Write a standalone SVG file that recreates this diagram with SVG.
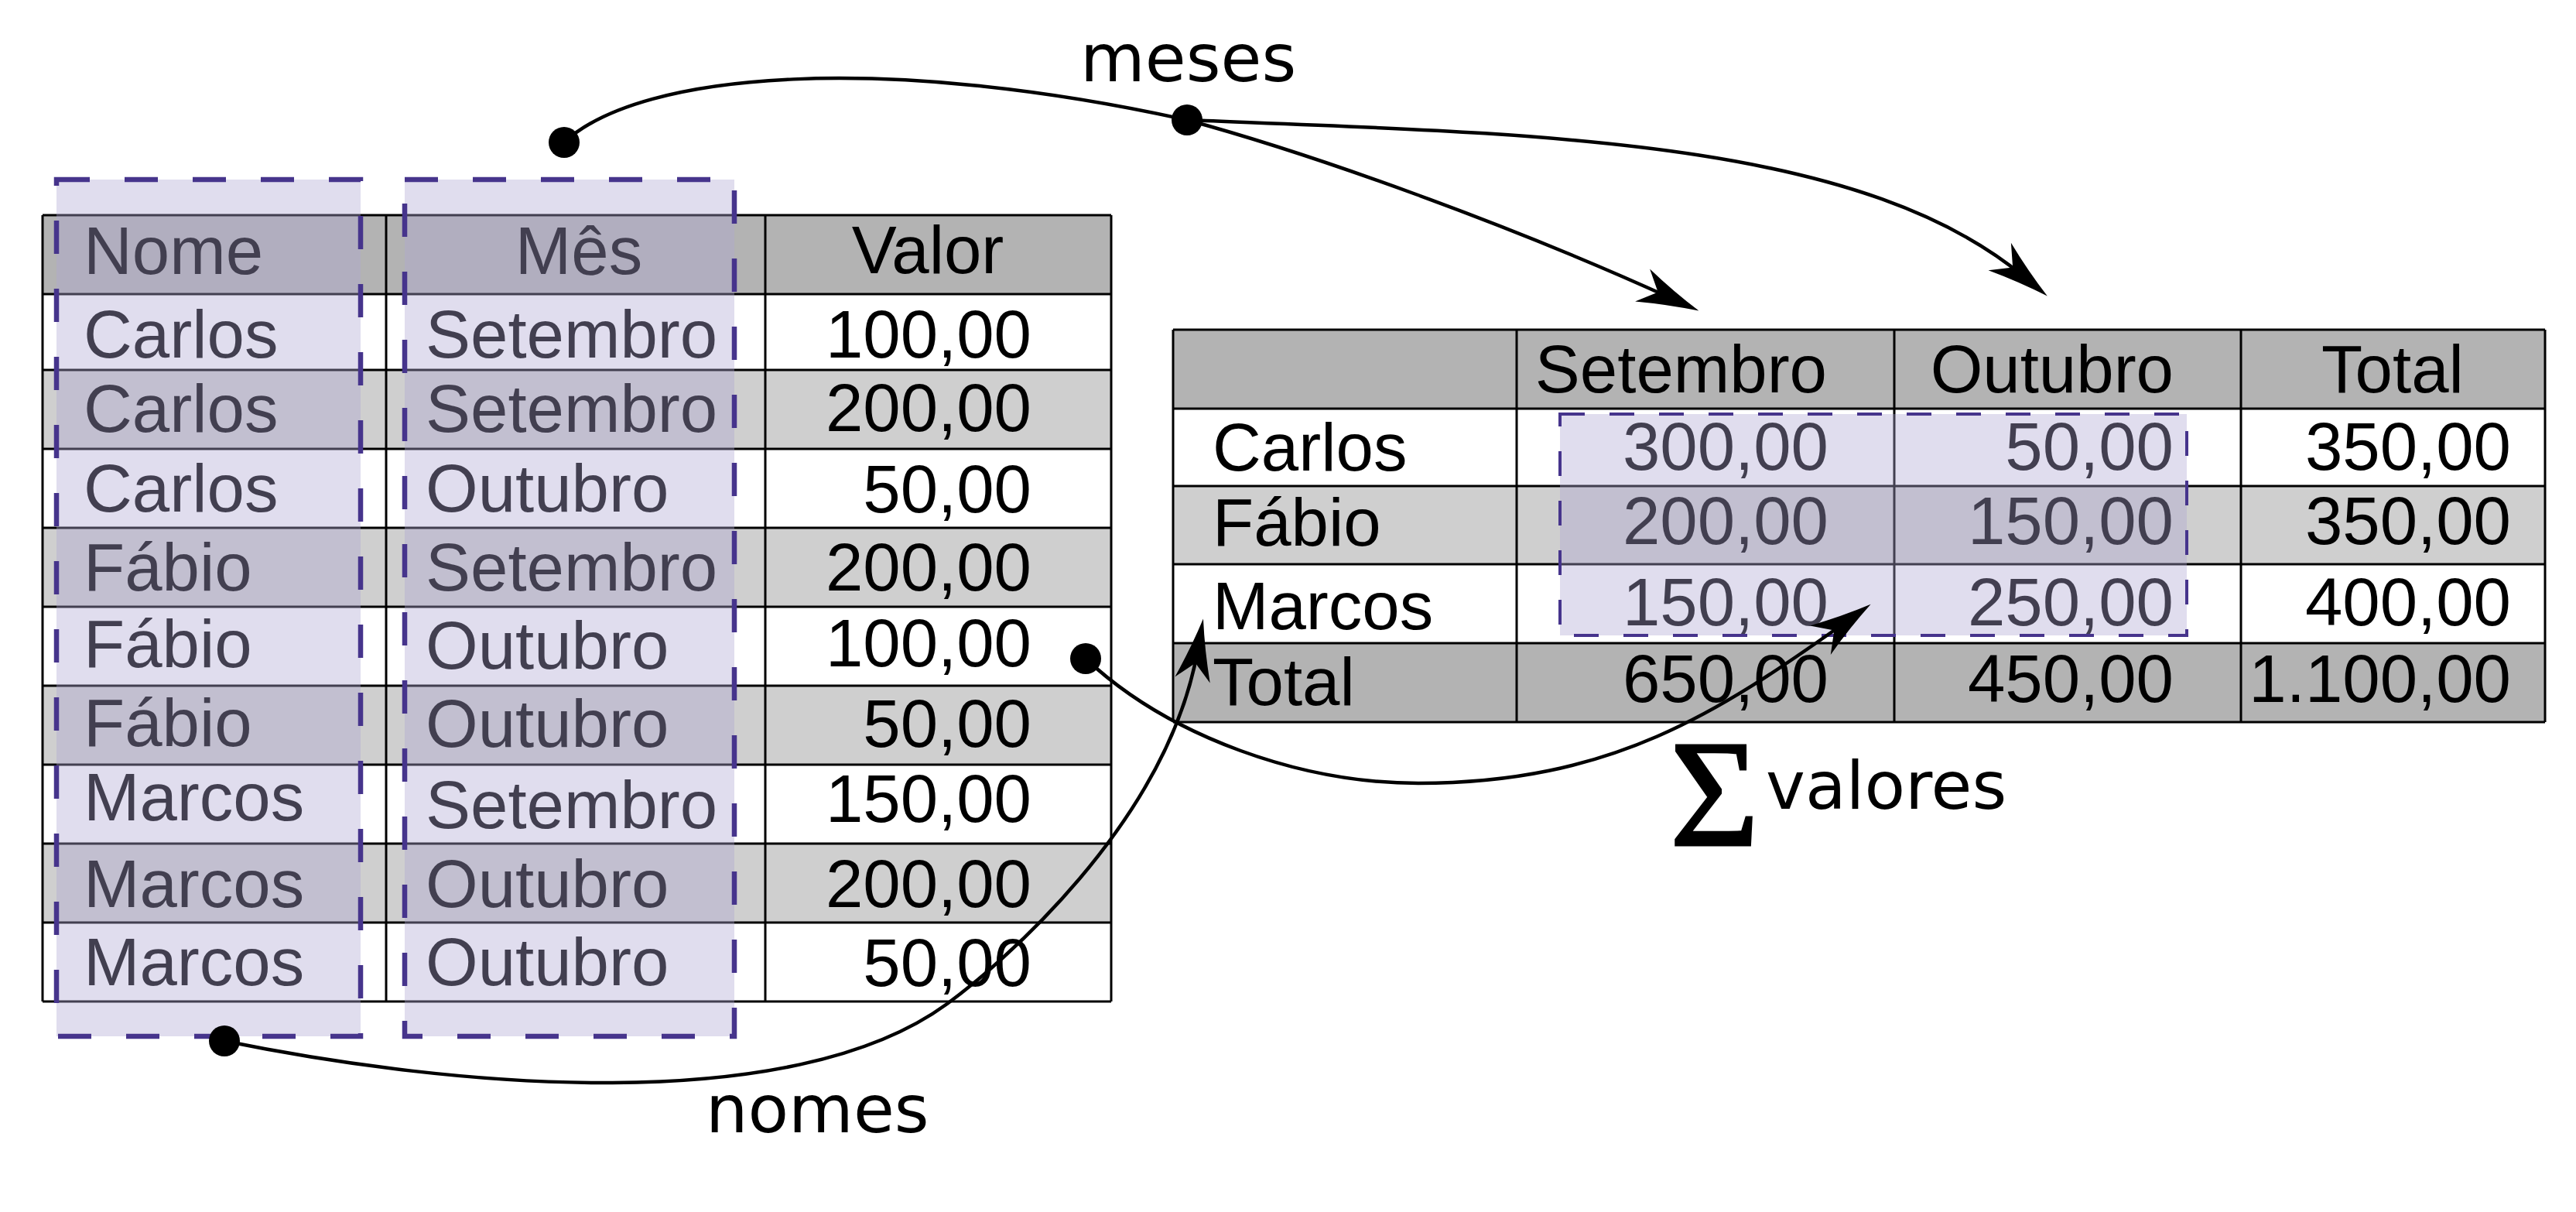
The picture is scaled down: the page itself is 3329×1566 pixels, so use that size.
<svg xmlns="http://www.w3.org/2000/svg" width="3329" height="1566" viewBox="0 0 3329 1566">
<style>
.t{font-family:"Liberation Sans",Arial,sans-serif;font-size:87px;fill:#000}
.e{text-anchor:end}
.m{text-anchor:middle}
.lbl{font-family:"DejaVu Sans",sans-serif;font-size:86px;fill:#000}
.hdr{fill:#b3b3b3}
.alt{fill:#cfcfcf}
.wht{fill:#fff}
.grid{stroke:#000;stroke-width:3;fill:none}
.ov{fill:#aea6d2;fill-opacity:.38}
.dash{fill:none;stroke:#46348c;stroke-width:6.5;stroke-dasharray:43 45}
.dash2{fill:none;stroke:#46348c;stroke-width:4;stroke-dasharray:32 32}
.conn{fill:none;stroke:#000;stroke-width:4.5}
.dot{fill:#000}
.sig{font-family:"Liberation Serif","DejaVu Serif",serif;font-size:198px;fill:#000;stroke:#000;stroke-width:3}
</style>
<defs>
<marker id="arr" markerUnits="userSpaceOnUse" orient="auto" refX="0" refY="0" markerWidth="200" markerHeight="200" overflow="visible">
<path d="M40,0 Q0,-9 -40,-23 L-18,0 L-40,23 Q0,9 40,0 Z" fill="#000"/>
</marker>
</defs>

<g id="left-table">
<rect class="hdr" x="55" y="278" width="1381" height="102"/>
<rect class="wht" x="55" y="380" width="1381" height="98"/>
<rect class="alt" x="55" y="478" width="1381" height="102"/>
<rect class="wht" x="55" y="580" width="1381" height="102"/>
<rect class="alt" x="55" y="682" width="1381" height="102"/>
<rect class="wht" x="55" y="784" width="1381" height="102"/>
<rect class="alt" x="55" y="886" width="1381" height="102"/>
<rect class="wht" x="55" y="988" width="1381" height="102"/>
<rect class="alt" x="55" y="1090" width="1381" height="102"/>
<rect class="wht" x="55" y="1192" width="1381" height="102"/>
<path class="grid" d="M55,278H1436M55,380H1436M55,478H1436M55,580H1436M55,682H1436M55,784H1436M55,886H1436M55,988H1436M55,1090H1436M55,1192H1436M55,1294H1436M55,278V1294M499,278V1294M989,278V1294M1436,278V1294"/>
<text class="t" x="108" y="354">Nome</text>
<text class="t m" x="748" y="354">Mês</text>
<text class="t m" x="1199" y="353">Valor</text>
<text class="t" x="108" y="462">Carlos</text><text class="t" x="550" y="462">Setembro</text><text class="t e" x="1333" y="462">100,00</text>
<text class="t" x="108" y="558">Carlos</text><text class="t" x="550" y="558">Setembro</text><text class="t e" x="1333" y="557">200,00</text>
<text class="t" x="108" y="661">Carlos</text><text class="t" x="550" y="661">Outubro</text><text class="t e" x="1333" y="662">50,00</text>
<text class="t" x="108" y="763">Fábio</text><text class="t" x="550" y="763">Setembro</text><text class="t e" x="1333" y="763">200,00</text>
<text class="t" x="108" y="862">Fábio</text><text class="t" x="550" y="864">Outubro</text><text class="t e" x="1333" y="861">100,00</text>
<text class="t" x="108" y="964">Fábio</text><text class="t" x="550" y="965">Outubro</text><text class="t e" x="1333" y="965">50,00</text>
<text class="t" x="108" y="1060">Marcos</text><text class="t" x="550" y="1070">Setembro</text><text class="t e" x="1333" y="1062">150,00</text>
<text class="t" x="108" y="1172">Marcos</text><text class="t" x="550" y="1172">Outubro</text><text class="t e" x="1333" y="1172">200,00</text>
<text class="t" x="108" y="1273">Marcos</text><text class="t" x="550" y="1273">Outubro</text><text class="t e" x="1333" y="1274">50,00</text>
</g>

<g id="right-table">
<rect class="hdr" x="1516" y="426" width="1773" height="102"/>
<rect class="wht" x="1516" y="528" width="1773" height="100"/>
<rect class="alt" x="1516" y="628" width="1773" height="101"/>
<rect class="wht" x="1516" y="729" width="1773" height="102"/>
<rect class="hdr" x="1516" y="831" width="1773" height="102"/>
<path class="grid" d="M1516,426H3289M1516,528H3289M1516,628H3289M1516,729H3289M1516,831H3289M1516,933H3289M1516,426V933M1960,426V933M2448,426V933M2896,426V933M3289,426V933"/>
<text class="t e" x="2361" y="507">Setembro</text>
<text class="t e" x="2809" y="507">Outubro</text>
<text class="t m" x="3092" y="507">Total</text>
<text class="t" x="1567" y="608">Carlos</text><text class="t e" x="2363" y="607">300,00</text><text class="t e" x="2809" y="607">50,00</text><text class="t e" x="3245" y="607">350,00</text>
<text class="t" x="1567" y="705">Fábio</text><text class="t e" x="2363" y="703">200,00</text><text class="t e" x="2809" y="703">150,00</text><text class="t e" x="3245" y="703">350,00</text>
<text class="t" x="1567" y="813">Marcos</text><text class="t e" x="2363" y="808">150,00</text><text class="t e" x="2809" y="808">250,00</text><text class="t e" x="3245" y="808">400,00</text>
<text class="t" x="1567" y="911">Total</text><text class="t e" x="2363" y="907">650,00</text><text class="t e" x="2809" y="907">450,00</text><text class="t e" x="3245" y="907">1.100,00</text>
</g>

<g id="sel-nome">
<rect class="ov" x="73" y="232" width="393" height="1107"/>
<rect class="dash" x="73" y="232" width="393" height="1107"/>
</g>
<g id="sel-mes">
<rect class="ov" x="523" y="232" width="426" height="1107"/>
<rect class="dash" x="523" y="232" width="426" height="1107"/>
</g>
<g id="sel-valores">
<rect class="ov" x="2016" y="535" width="810" height="286"/>
<rect class="dash2" x="2016" y="535" width="810" height="286"/>
</g>

<g id="connectors">
<path class="conn" d="M729,184 C830,90 1150,70 1534,155"/>
<path class="conn" marker-end="url(#arr)" d="M1534,155 C1700,200 1950,290 2159,385"/>
<path class="conn" marker-end="url(#arr)" d="M1534,155 C1984,173 2399,178 2615,357"/>
<path class="conn" marker-end="url(#arr)" d="M1403,851 C1512,953 1683,1012 1833,1012 C2083,1012 2222,920 2385,804"/>
<path class="conn" marker-end="url(#arr)" d="M290,1345 C584,1405 1022,1445 1224,1297 C1288,1250 1508,1066 1548,839"/>
<circle class="dot" cx="729" cy="184" r="20"/>
<circle class="dot" cx="1534" cy="155" r="20"/>
<circle class="dot" cx="1403" cy="851" r="20"/>
<circle class="dot" cx="290" cy="1345" r="20"/>
</g>

<g id="labels">
<text class="lbl" x="1396" y="105">meses</text>
<text class="lbl" x="912" y="1463">nomes</text>
<text class="lbl" x="2282" y="1045">valores</text>
<text class="sig" x="2158" y="1092">Σ</text>
</g>
</svg>
